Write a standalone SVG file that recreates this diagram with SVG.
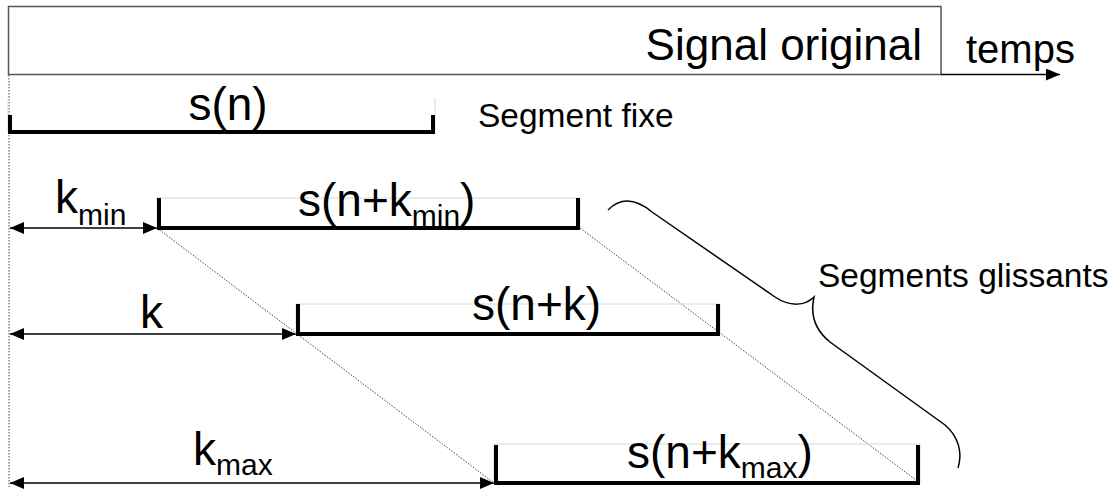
<svg xmlns="http://www.w3.org/2000/svg" width="1110" height="491" viewBox="0 0 1110 491">
<defs>
<style>
text{font-family:"Liberation Sans",Arial,sans-serif;fill:#000}
.big{font-size:46px}
.mid{font-size:33.5px}
.sub{font-size:30px}
.seg{stroke:#000;stroke-width:4;fill:none}
.gray{stroke:#d8d8d8;stroke-width:1;fill:none}
.dim{stroke:#000;stroke-width:1.5;fill:none;marker-start:url(#ahs);marker-end:url(#ahe)}
.dot{stroke:#444;stroke-width:1;stroke-dasharray:1.5 1.5;fill:none}
</style>
<marker id="ahe" viewBox="0 0 14 12" refX="14" refY="6" markerWidth="14" markerHeight="12" markerUnits="userSpaceOnUse" orient="auto"><path d="M0,0L14,6L0,12Z" fill="#000"/></marker>
<marker id="ahs" viewBox="0 0 14 12" refX="0" refY="6" markerWidth="14" markerHeight="12" markerUnits="userSpaceOnUse" orient="auto"><path d="M14,0L0,6L14,12Z" fill="#000"/></marker>
</defs>
<rect width="1110" height="491" fill="#fff"/>
<g id="signal">
<rect x="8.5" y="6.5" width="932.5" height="68" fill="none" stroke="#555" stroke-width="1.5"/>
<text x="922" y="60" text-anchor="end" style="font-size:44px">Signal original</text>
</g>
<g id="temps">
<text x="966" y="63" style="font-size:40px">temps</text>
</g>
<g id="connectors">
<line x1="941" y1="74.5" x2="1060" y2="74.5" stroke="#000" stroke-width="1.5" marker-end="url(#ahe)"/>
<line class="dot" x1="9" y1="75" x2="9" y2="487"/>
<line class="dot" x1="157" y1="228" x2="494" y2="483"/>
<line class="dot" x1="580" y1="228" x2="920" y2="483"/>
<line class="dim" x1="10" y1="228" x2="157" y2="228"/>
<line class="dim" x1="10" y1="334" x2="296" y2="334"/>
<line class="dim" x1="10" y1="483" x2="494" y2="483"/>
<path d="M608,210 C620,198 635,198 652,212 L775,297 C790,307 805,306 814,297 C810,315 815,330 830,342 L945,425 C958,436 963,452 958,468" fill="none" stroke="#000" stroke-width="1.5"/>
</g>
<g id="seg-fixe">
<path class="gray" d="M8,132V98M435,132V98"/>
<path class="seg" d="M10,115V132H433V115"/>
<text class="big" x="228" y="120" text-anchor="middle">s(n)</text>
<text class="mid" x="478" y="127">Segment fixe</text>
</g>
<g id="seg-kmin">
<path class="gray" d="M157,228V198H580V228"/>
<path class="seg" d="M159,198V228H578V198"/>
<text class="big" x="298" y="216">s(n+k<tspan class="sub" dy="10">min</tspan><tspan dy="-10">)</tspan></text>
<text class="big" x="55" y="213">k<tspan class="sub" dy="12">min</tspan></text>
</g>
<g id="seg-k">
<path class="gray" d="M296,334V304H720V334"/>
<path class="seg" d="M298,304V334H718V304"/>
<text class="big" x="472" y="320">s(n+k)</text>
<text class="big" x="140" y="328">k</text>
</g>
<g id="seg-kmax">
<path class="gray" d="M494,483V444H920V483"/>
<path class="seg" d="M496,445V483H918V445"/>
<text class="big" x="627" y="468">s(n+k<tspan class="sub" dy="10">max</tspan><tspan dy="-10">)</tspan></text>
<text class="big" x="193" y="465">k<tspan class="sub" dy="10">max</tspan></text>
</g>
<g id="glissants">
<text class="mid" x="818" y="287">Segments glissants</text>
</g>
</svg>
